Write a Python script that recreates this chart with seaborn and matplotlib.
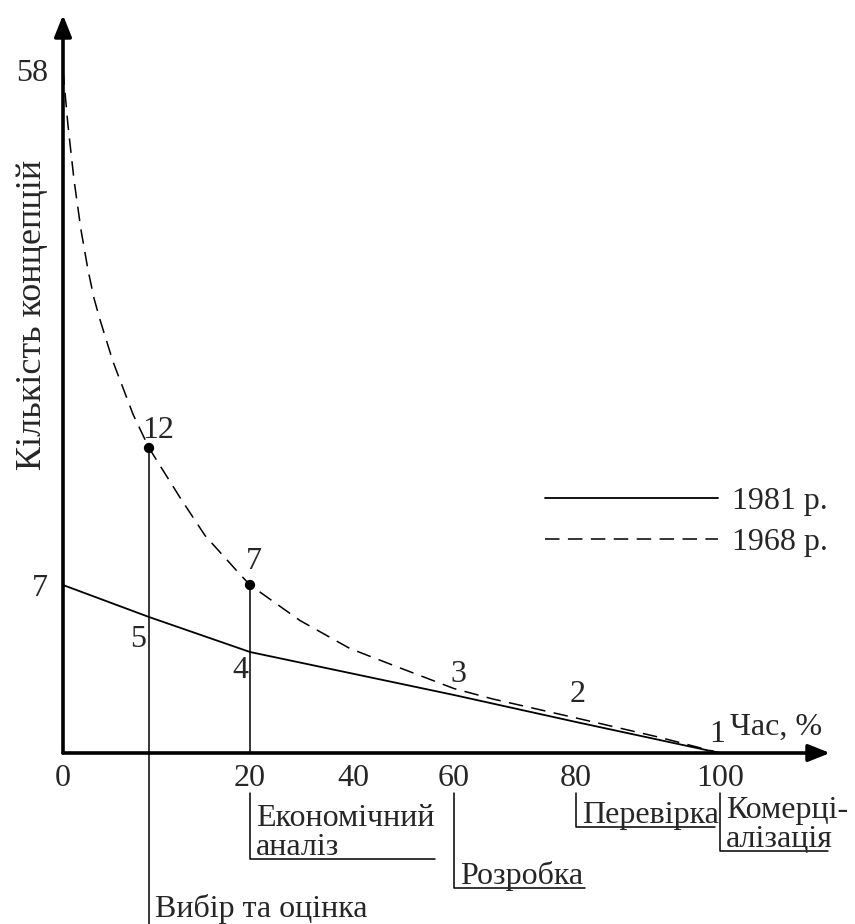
import numpy as np
import pandas as pd
import matplotlib
matplotlib.use('Agg')
import matplotlib.pyplot as plt
from matplotlib.lines import Line2D
from matplotlib.ticker import NullLocator
import seaborn as sns

sns.set_style('white')
plt.rcParams['font.family'] = ['Liberation Serif', 'DejaVu Serif']
plt.rcParams['font.size'] = 23

# --- Data ---
time_ticks = [0, 20, 40, 60, 80, 100]
time_minor = [70, 88]
count_ticks = [7, 58]

time_1981 = [0, 9.2, 20, 60, 80, 100]
count_1981 = [7, 5, 4, 3, 2, 1]

time_1968 = [0, 0.53, 1.18, 1.93, 2.67, 3.32, 3.96, 5.35, 7.49, 9.2, 12.5, 15.2, 18.9, 20,
             29.7, 39.4, 49.3, 60, 66.4, 80, 91.7, 100]
count_1968 = [58, 51.3, 44.6, 38.5, 33.7, 30.2, 27.6, 22.5, 16.1, 12, 10.2, 8.8, 7.4, 7,
              4.9, 4.1, 3.63, 3.15, 2.85, 2.15, 1.5, 1]

marked_time = [9.2, 20]
marked_count = [12, 7]

stage_time = [9.2, 20, 60, 80, 100]
stage_names = ['Вибір та оцінка', 'Економічний\nаналіз', 'Розробка', 'Перевірка', 'Комерці-\nалізація']

# --- Schematic (hand drawn) axis spacing: value -> distance from origin, px ---
X_KNOTS, X_DIST = [0, 20, 40, 60, 80, 100], [0, 187, 290, 391, 513, 657]
Y_KNOTS, Y_DIST = [1, 2, 3, 4, 5, 7, 12, 58], [0, 31, 58, 101, 136, 168, 305, 683]


def piecewise(a, b):
    a = np.asarray(a, float)
    b = np.asarray(b, float)
    lo = (b[1] - b[0]) / (a[1] - a[0])
    hi = (b[-1] - b[-2]) / (a[-1] - a[-2])

    def f(v):
        v = np.asarray(v, float)
        out = np.interp(v, a, b)
        out = np.where(v < a[0], b[0] + (v - a[0]) * lo, out)
        out = np.where(v > a[-1], b[-1] + (v - a[-1]) * hi, out)
        return out
    return f


x_fwd, x_inv = piecewise(X_KNOTS, X_DIST), piecewise(X_DIST, X_KNOTS)
y_fwd, y_inv = piecewise(Y_KNOTS, Y_DIST), piecewise(Y_DIST, Y_KNOTS)

W, H = 855, 924


def fx(px):
    return px / W


def fy(py):
    return 1 - py / H


fig = plt.figure(figsize=(W / 100, H / 100), dpi=100)
ax = fig.add_axes([fx(63), fy(753), fx(830) - fx(63), fy(15) - fy(753)])
ax.set_xscale('function', functions=(x_fwd, x_inv))
ax.set_yscale('function', functions=(y_fwd, y_inv))
ax.set_xlim(0, float(x_inv(767)))
ax.set_ylim(1, float(y_inv(738)))

df81 = pd.DataFrame({'time': time_1981, 'count': count_1981})
df68 = pd.DataFrame({'time': time_1968, 'count': count_1968})

sns.lineplot(data=df81, x='time', y='count', color='black', lw=1.3,
             label='1981 р.', ax=ax, clip_on=False)
sns.lineplot(data=df68, x='time', y='count', color='black', lw=1.1,
             linestyle=(0, (9.5, 5.5)), label='1968 р.', ax=ax, clip_on=False)
sns.scatterplot(x=marked_time, y=marked_count, color='black', s=55,
                edgecolor='none', ax=ax, zorder=5, clip_on=False)

# vertical stage lines from the marked points down to the axis
for t, c in zip(marked_time, marked_count):
    ax.plot([t, t], [1, c], color='black', lw=1.1, clip_on=False)

# value labels along the curves (offsets in points)
labels = [(9.2, 12, '12', 6.5, 7.2), (20, 7, '7', 2.9, 11.5),
          (9.2, 5, '5', -7.9, -21.6), (20, 4, '4', -7.2, -18.7),
          (60, 3, '3', 2.9, 9.4), (80, 2, '2', 1.4, 14.4), (100, 1, '1', -2.2, 7.9)]
for x, y, s, dx, dy in labels:
    ax.annotate(s, xy=(x, y), xytext=(dx, dy), textcoords='offset points',
                ha='center', va='baseline', annotation_clip=False)

# axes with arrows
for spine in ax.spines.values():
    spine.set_visible(False)
arrow = dict(arrowstyle='-|>,head_length=0.5,head_width=0.2', color='black',
             lw=2.6, mutation_scale=26, shrinkA=0, shrinkB=0)
ax.annotate('', xy=(1, 0), xytext=(0, 0), xycoords='axes fraction', arrowprops=arrow)
ax.annotate('', xy=(0, 1), xytext=(0, 0), xycoords='axes fraction', arrowprops=arrow)

ax.set_xticks(time_ticks)
ax.set_xticklabels([str(t) for t in time_ticks])
ax.set_xticks(time_minor, minor=True)
ax.set_yticks(count_ticks)
ax.set_yticklabels([str(c) for c in count_ticks])
ax.yaxis.set_minor_locator(NullLocator())
ax.tick_params(axis='x', which='both', direction='out', length=5.8, width=1.1,
               pad=2, labelsize=23, color='black')
ax.tick_params(axis='y', length=0, pad=11, labelsize=23)
ax.set_xlabel('')
ax.set_ylabel('Кількість концепцій', fontsize=26)
ax.yaxis.set_label_coords(-0.018, 0.593)

fig.text(fx(730), fy(735), 'Час, %', ha='left', va='baseline', fontsize=23)

# legend
leg = ax.legend(loc='center left', bbox_to_anchor=(fx(545), fy(522)),
                bbox_transform=fig.transFigure, frameon=False, fontsize=23,
                handlelength=5.4, handletextpad=0.44, labelspacing=0.36,
                borderpad=0, borderaxespad=0)

# stage brackets below the time axis (layout in reference pixels)
fig.canvas.draw()
bracket_top = 793
bracket_bottom = [None, 859, 888, 827, 851]
bracket_width = [None, 185, 131, 139, 108]
for i, (t, name) in enumerate(zip(stage_time, stage_names)):
    x0 = ax.transData.transform((t, 1))[0]
    if i == 0:
        fig.add_artist(Line2D([fx(x0), fx(x0)], [fy(753), 0], color='black', lw=1.1))
        fig.text(fx(x0 + 6), fy(917), name, ha='left', va='baseline', fontsize=23)
        continue
    yb = bracket_bottom[i]
    fig.add_artist(Line2D([fx(x0), fx(x0), fx(x0 + bracket_width[i])],
                          [fy(bracket_top), fy(yb), fy(yb)], color='black', lw=1.1))
    fig.text(fx(x0 + 6), fy(yb - 4), name, ha='left', va='baseline',
             fontsize=23, linespacing=1.0)

fig.savefig('out.png', dpi=100)
